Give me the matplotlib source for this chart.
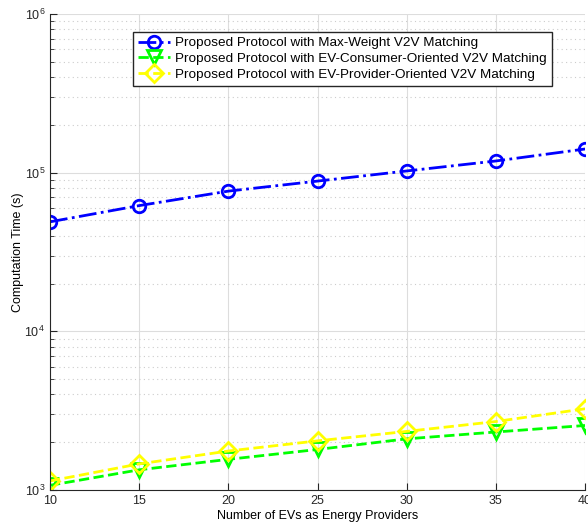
import matplotlib
matplotlib.use('Agg')
import matplotlib.pyplot as plt
from matplotlib.ticker import LogLocator, NullFormatter

plt.rcParams['font.family'] = ['Liberation Sans', 'DejaVu Sans']
plt.rcParams['mathtext.fontset'] = 'custom'
plt.rcParams['mathtext.rm'] = 'Liberation Sans'
plt.rcParams['mathtext.it'] = 'Liberation Sans'

num_providers = [10, 15, 20, 25, 30, 35, 40]
max_weight = [4.9e4, 6.2e4, 7.65e4, 8.85e4, 1.025e5, 1.185e5, 1.41e5]
consumer_oriented = [1.07e3, 1.34e3, 1.56e3, 1.8e3, 2.1e3, 2.32e3, 2.55e3]
provider_oriented = [1.14e3, 1.46e3, 1.76e3, 2.04e3, 2.34e3, 2.7e3, 3.25e3]

labels = ['Proposed Protocol with Max-Weight V2V Matching',
          'Proposed Protocol with EV-Consumer-Oriented V2V Matching',
          'Proposed Protocol with EV-Provider-Oriented V2V Matching']

fig = plt.figure(figsize=(5.88, 5.25), dpi=100)
ax = fig.add_axes([0.085, 0.0667, 0.91, 0.9066])

ax.plot(num_providers, max_weight, color='#0000ff', linestyle='-.', linewidth=2,
        marker='o', markersize=9, markerfacecolor='none', markeredgewidth=2, label=labels[0])
ax.plot(num_providers, consumer_oriented, color='#00ff00', linestyle='--', linewidth=2,
        marker='v', markersize=10, markerfacecolor='none', markeredgewidth=2, label=labels[1])
ax.plot(num_providers, provider_oriented, color='#ffff00', linestyle='--', linewidth=2,
        marker='D', markersize=9, markerfacecolor='none', markeredgewidth=2, label=labels[2])

ax.set_yscale('log')
ax.set_xlim(10, 40)
ax.set_ylim(1e3, 1e6)
ax.set_xticks(num_providers)
ax.yaxis.set_minor_locator(LogLocator(base=10, subs=range(2, 10)))
ax.yaxis.set_minor_formatter(NullFormatter())

ax.grid(True, which='major', color='#dddddd', linestyle='-', linewidth=0.8)
ax.grid(True, which='minor', axis='y', color='#cccccc', linestyle=(0, (1, 3)), linewidth=0.8)
ax.set_axisbelow(True)

ax.spines['top'].set_visible(False)
ax.spines['right'].set_visible(False)
ax.spines['left'].set_color('#262626')
ax.spines['bottom'].set_color('#262626')
ax.tick_params(which='both', direction='in', labelsize=9, colors='#262626')
ax.tick_params(which='major', length=5)
ax.tick_params(which='minor', length=3)

ax.set_xlabel('Number of EVs as Energy Providers', fontsize=9, labelpad=2)
ax.set_ylabel('Computation Time (s)', fontsize=9, labelpad=0)

leg = ax.legend(loc='upper left', bbox_to_anchor=(0.155, 0.962), fontsize=9.7,
                fancybox=False, framealpha=1, edgecolor='#262626', borderaxespad=0,
                borderpad=0.35, labelspacing=0.25, handlelength=2.4, handletextpad=0.4)
leg.get_frame().set_linewidth(1)

fig.savefig('out.png', dpi=100)
plt.close()
